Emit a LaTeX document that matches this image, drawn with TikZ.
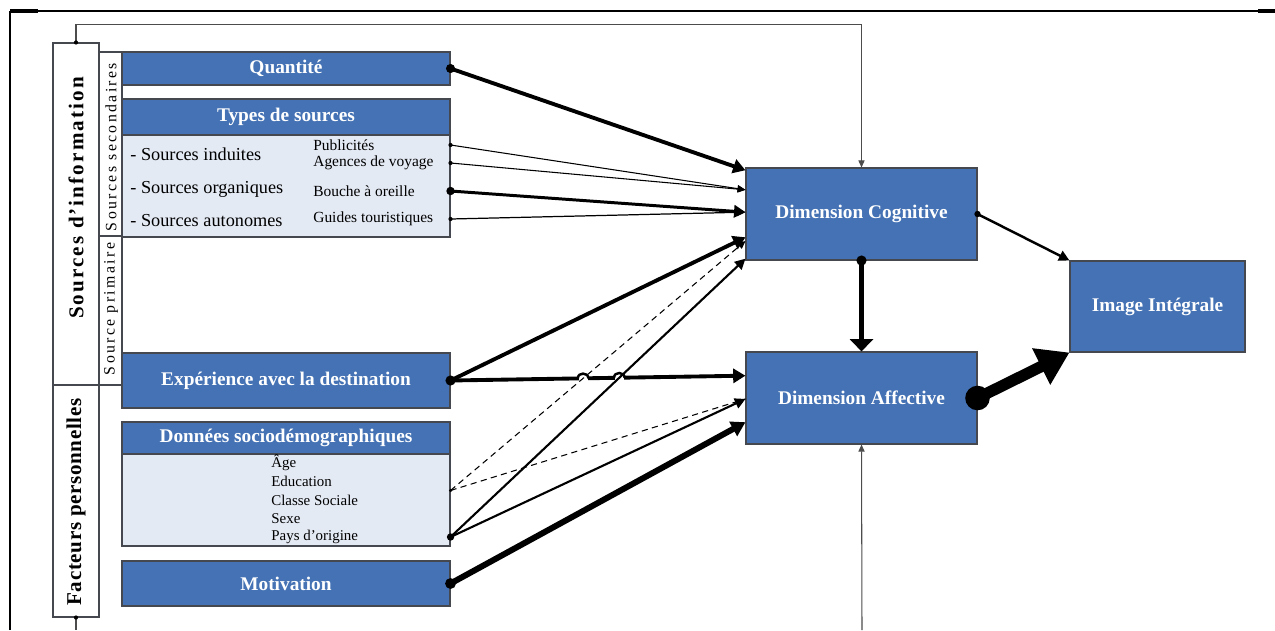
\documentclass[tikz,border=0pt]{standalone}
\usepackage{fontspec}
\setmainfont{Liberation Serif}
\newfontfamily\vlabA[LetterSpace=10]{Liberation Serif}
\newfontfamily\vlabB[LetterSpace=3]{Liberation Serif}
\newfontfamily\vlabC[LetterSpace=15]{Liberation Serif}
\usetikzlibrary{arrows.meta,calc,intersections}
\definecolor{boxblue}{RGB}{68,114,180}
\definecolor{bodyfill}{RGB}{228,234,244}
\definecolor{edgegray}{RGB}{70,72,80}
\begin{document}
\begin{tikzpicture}[x=0.02cm,y=-0.02cm,
  sz/.style 2 args={minimum width=#1*0.02cm, minimum height=#2*0.02cm},
  bluebox/.style={draw=edgegray, line width=0.6pt, fill=boxblue, text=white,
    font=\fontsize{11}{13}\selectfont\bfseries, inner sep=0pt},
  bodybox/.style={draw=edgegray, line width=0.6pt, fill=bodyfill, inner sep=0pt},
  sidebox/.style={draw=edgegray, line width=0.6pt, fill=white, inner sep=0pt},
  item/.style={inner sep=0pt, anchor=west, font=\fontsize{8.8}{10}\selectfont},
  bigitem/.style={inner sep=0pt, anchor=west, font=\fontsize{10.4}{12}\selectfont},
  ditem/.style={inner sep=0pt, anchor=west, font=\fontsize{8.5}{10}\selectfont},
  fb/.style={draw=black!70, line width=0.6pt},
  thin/.style={line width=0.6pt, -{Triangle[length=4.5pt,width=4pt]}},
  mid/.style={line width=1.2pt, -{Triangle[length=6pt,width=6pt]}},
  thick/.style={line width=2.2pt, -{Triangle[length=7pt,width=8pt]}},
  vthick/.style={line width=3.4pt, -{Triangle[length=8pt,width=9pt]}},
]
\useasboundingbox (0,0) rectangle (1275,630);

% frame
\draw[line width=1.2pt] (10,630) -- (10,11);
\draw[line width=0.8pt] (10,11) -- (1275,11);
\draw[line width=2pt] (10,11) -- (38,11);
\draw[line width=2pt] (1258,11) -- (1275,11);

% left side boxes
\node[sidebox, sz={46}{342}] (srcinfo) at (76,214) {};
\node[sidebox, sz={46}{232}] (fact) at (76,501) {};
\node[sidebox, sz={23}{184}] (secnd) at (110.5,144) {};
\node[sidebox, sz={23}{149}] (prim) at (110.5,310.5) {};
\node[rotate=90, inner sep=0pt, font=\vlabA\fontsize{12}{14}\selectfont\bfseries] (lsrc) at (76,198) {Sources d’information};
\node[rotate=90, inner sep=0pt, font=\vlabB\fontsize{12}{14}\selectfont\bfseries] (lfact) at (76,502) {Facteurs personnelles};
\node[rotate=90, inner sep=0pt, font=\vlabC\fontsize{9}{11}\selectfont] (lsec) at (111,147) {Sources secondaires};
\node[rotate=90, inner sep=0pt, font=\vlabC\fontsize{9}{11}\selectfont] (lprim) at (111,309) {Source primaire};

% source boxes
\node[bluebox, sz={328}{33}] (quant) at (286,68.5) {Quantité};
\node[bluebox, sz={328}{36}] (types) at (286,117) {Types de sources};
\node[bodybox, sz={328}{102}] (tbody) at (286,186) {};
\node[bigitem] (si) at (130,154) {- Sources induites};
\node[bigitem] (so) at (130,189) {- Sources organiques};
\node[bigitem] (sa) at (130,221) {- Sources autonomes};
\node[item] (pub) at (313,145) {Publicités};
\node[item] (agn) at (313,163) {Agences de voyage};
\node[item] (bou) at (313,191) {Bouche à oreille};
\node[item] (gui) at (313,219) {Guides touristiques};

\node[bluebox, sz={328}{55}] (exp) at (286,380.5) {Expérience avec la destination};
\node[bluebox, sz={328}{32}] (don) at (286,438) {Données sociodémographiques};
\node[bodybox, sz={328}{92}] (dbody) at (286,500) {};
\node[ditem] (age) at (271,463) {Âge};
\node[ditem] (edu) at (271,481) {Education};
\node[ditem] (cls) at (271,500) {Classe Sociale};
\node[ditem] (sex) at (271,519) {Sexe};
\node[ditem] (pays) at (271,537) {Pays d’origine};
\node[bluebox, sz={328}{45}] (mot) at (286,583.5) {Motivation};

% dimension boxes
\node[bluebox, sz={231}{92}] (cog) at (861.5,214) {Dimension Cognitive};
\node[bluebox, sz={231}{92}] (aff) at (861.5,398) {Dimension Affective};
\node[bluebox, sz={175}{91}] (img) at (1157.5,306.5) {Image Intégrale};

% target and source points
\coordinate (c1) at ($(cog.north west)!0.03!(cog.south west)$);
\coordinate (c2) at ($(cog.north west)!0.24!(cog.south west)$);
\coordinate (c3) at ($(cog.north west)!0.48!(cog.south west)$);
\coordinate (c4) at ($(cog.north west)!0.75!(cog.south west)$);
\coordinate (c5) at ($(cog.north west)!0.79!(cog.south west)$);
\coordinate (c6) at ($(cog.north west)!0.98!(cog.south west)$);
\coordinate (a1) at ($(aff.north west)!0.26!(aff.south west)$);
\coordinate (a2) at ($(aff.north west)!0.51!(aff.south west)$);
\coordinate (a3) at ($(aff.north west)!0.76!(aff.south west)$);
\coordinate (edudot) at ($(dbody.north east)+(0,37)$);
\coordinate (paysdot) at (dbody.east |- pays);
\coordinate (bl) at (76,630);
\coordinate (br) at (862,630);

% feedback loop
\draw[fb, -{Triangle[length=4pt,width=3.5pt]}] (srcinfo.north) -- ++(0,-18) -| (cog.north);
\fill (srcinfo.north) circle (1.2pt);
\draw[fb] (fact.south) -- (bl);
\fill (fact.south) circle (1.2pt);
\draw[fb, -{Triangle[length=4pt,width=3.5pt]}] (br) -- (aff.south);

% connectors to cognitive
\draw[thick] (quant.east) -- (c1);
\fill (quant.east) circle (2.6pt);
\draw[thin] (tbody.east |- pub) -- (c2);
\fill (tbody.east |- pub) circle (1.2pt);
\draw[thin] (tbody.east |- agn) -- (c2);
\fill (tbody.east |- agn) circle (1.2pt);
\draw[line width=1.7pt, -{Triangle[length=6.5pt,width=7pt]}] (tbody.east |- bou) -- (c3);
\fill (tbody.east |- bou) circle (2.4pt);
\draw[line width=0.7pt, -{Triangle[length=5pt,width=4.5pt]}] (tbody.east |- gui) -- (c3);
\fill (tbody.east |- gui) circle (1.2pt);

% experience -> affective with hops
\draw[thick, name path=expaff] (exp.east) -- (a1);
\path[name path=educog] (edudot) -- (c5);
\path[name path=payscog] (paysdot) -- (c6);
\path[name intersections={of=expaff and educog, by=X1}];
\path[name intersections={of=expaff and payscog, by=X2}];
\foreach \X in {X1,X2}{
  \fill[white] ([xshift=-2.6pt,yshift=-1.3pt]\X) rectangle ([xshift=2.6pt,yshift=1.3pt]\X);
  \draw[line width=1.4pt] ([xshift=-3pt]\X) .. controls ([xshift=-3pt,yshift=3.6pt]\X) and ([xshift=3pt,yshift=3.6pt]\X) .. ([xshift=3pt]\X);
}
\draw[thick] (exp.east) -- (c4);
\fill (exp.east) circle (2.9pt);

% sociodemographic links
\draw[line width=0.6pt, dash pattern=on 3.5pt off 2.5pt, -{Triangle[length=4.5pt,width=4pt]}] (edudot) -- (c5);
\draw[line width=0.6pt, dash pattern=on 3.5pt off 2.5pt] (edudot) -- (a2);
\fill (edudot) circle (1pt);
\draw[mid] (paysdot) -- (c6);
\draw[mid] (paysdot) -- (a2);
\fill (paysdot) circle (2.1pt);
\draw[vthick] (mot.east) -- (a3);
\fill (mot.east) circle (3.1pt);

% to integral image
\draw[line width=1.4pt, -{Triangle[length=6pt,width=6pt]}] (cog.east) -- (img.north west);
\fill (cog.east) circle (1.8pt);
\draw[line width=2.4pt, -{Triangle[length=7pt,width=13pt]}] (cog.south) -- (aff.north);
\fill (cog.south) circle (2.9pt);
\draw[line width=6.5pt, -{Triangle[length=18pt,width=22pt]}] (aff.east) -- (img.south west);
\fill (aff.east) circle (7pt);
\end{tikzpicture}
\end{document}
